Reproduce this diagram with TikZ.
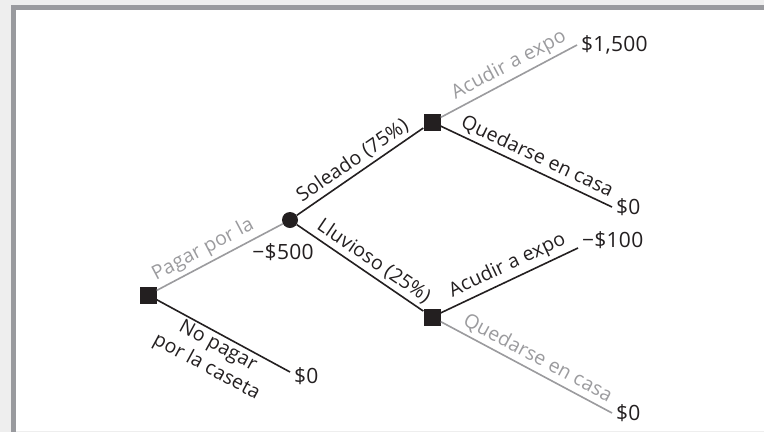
\documentclass[tikz,border=0pt]{standalone}
\usepackage{fontspec}
\setmainfont{Open Sans}[LetterSpace=1.2]
\usepackage{tikz}
\usetikzlibrary{positioning, calc}
\definecolor{treeInk}{RGB}{35, 31, 32}
\definecolor{treeGray}{RGB}{155, 155, 158}
\definecolor{frameGray}{RGB}{153, 154, 158}
\definecolor{paperGray}{RGB}{238, 238, 238}

\begin{document}
\begin{tikzpicture}[
    x=1pt, y=-1pt,
    every node/.style={font=\fontsize{21}{24}\selectfont, text=treeInk},
    decision/.style={fill=treeInk, minimum size=17pt, inner sep=0pt},
    chance/.style={circle, fill=treeInk, minimum size=16pt, inner sep=0pt},
    branch/.style={line width=1.6pt, treeInk},
    dropped/.style={line width=1.6pt, treeGray},
    lbl/.style={sloped, above, inner sep=3.5pt, font=\fontsize{19.5}{24}\selectfont},
    payoff/.style={right, inner sep=4pt},
  ]
    \useasboundingbox (0,0) rectangle (764,432);
    % frame
    \fill[paperGray] (0,0) rectangle (764,432);
    \fill[frameGray] (11,5) rectangle (764,432);
    \fill[white] (16,10) rectangle (764,430.5);
    \fill[paperGray] (16,430.5) rectangle (764,432);
    % decision and chance points
    \node[decision] (start) at (148,295) {};
    \node[chance] (weather) at (290,220) {};
    \node[decision] (sunny) at (432,122) {};
    \node[decision] (rainy) at (432,317) {};
    % branch ends
    \coordinate (noBooth) at (290,372);
    \coordinate (sunExpo) at (577,45);
    \coordinate (sunHome) at (612,207);
    \coordinate (rainExpo) at (578,248);
    \coordinate (rainHome) at (612,413);
    % booth
    \draw[dropped] (start) -- node[lbl, text=treeGray, pos=0.42] {Pagar por la} (weather);
    \draw[branch] (start) -- node[lbl, below, align=center, pos=0.5, inner sep=2pt] {No pagar\\por la caseta} (noBooth);
    \node (booth) at (283,252) {−\$500};
    % weather
    \draw[branch] (weather) -- node[lbl, pos=0.5] {Soleado (75\%)} (sunny);
    \draw[branch] (weather) -- node[lbl, pos=0.55] {Lluvioso (25\%)} (rainy);
    % sunny day
    \draw[dropped] (sunny) -- node[lbl, text=treeGray, pos=0.55] {Acudir a expo} (sunExpo);
    \draw[branch] (sunny) -- node[lbl, pos=0.53] {Quedarse en casa} (sunHome);
    % rainy day
    \draw[branch] (rainy) -- node[lbl, pos=0.53] {Acudir a expo} (rainExpo);
    \draw[dropped] (rainy) -- node[lbl, text=treeGray, pos=0.53] {Quedarse en casa} (rainHome);
    % payoffs
    \node[payoff] (v1) at (sunExpo) {\$1,500};
    \node[payoff] (v2) at (sunHome) {\$0};
    \node[payoff, yshift=8pt] (v3) at (rainExpo) {−\$100};
    \node[payoff] (v4) at (rainHome) {\$0};
    \node[payoff, yshift=-4pt] (v5) at (noBooth) {\$0};
  \end{tikzpicture}
\end{document}
